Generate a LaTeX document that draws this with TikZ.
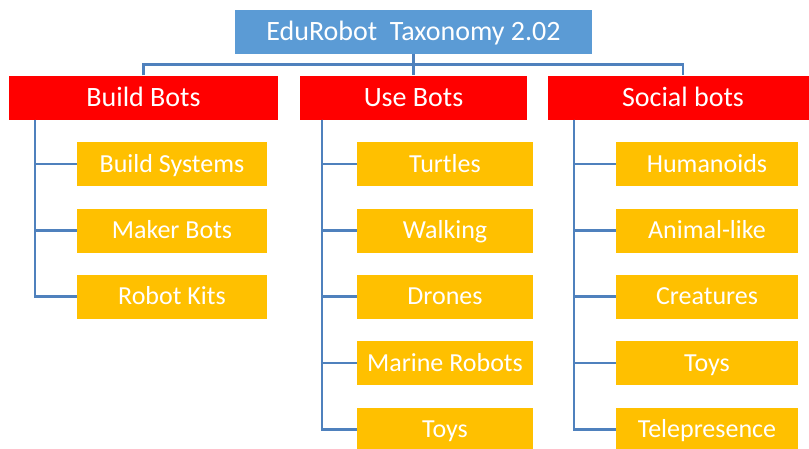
\documentclass[tikz,border=0pt]{standalone}
\usepackage{fontspec}
\setmainfont{Carlito}
\usepackage{tikz}
\usetikzlibrary{calc}
\definecolor{titleblue}{RGB}{91,155,213}
\definecolor{linkblue}{RGB}{79,129,189}
\definecolor{catred}{RGB}{255,0,0}
\definecolor{leafyellow}{RGB}{255,192,0}

\begin{document}
\begin{tikzpicture}[x=1pt,y=-1pt,
  box/.style={text=white,inner sep=0pt,minimum height=44pt,text depth=0pt},
  top/.style={box,fill=titleblue,minimum width=357pt,text height=18pt,font=\fontsize{28}{32}\selectfont},
  cat/.style={box,fill=catred,text height=18pt,font=\fontsize{28}{32}\selectfont},
  leaf/.style={box,fill=leafyellow,text height=16.7pt,font=\fontsize{26}{30}\selectfont},
  link/.style={linkblue,line width=2.4pt}]
\clip (0,0) rectangle (809,448);
\useasboundingbox (0,0) rectangle (809,448);

\node[top] (title) at (413.5,31.5) {EduRobot~ Taxonomy 2.02};

\node[cat,minimum width=269pt] (build) at (143.5,97.5) {Build Bots};
\node[cat,minimum width=227pt] (use) at (413.5,97.5) {Use Bots};
\node[cat,minimum width=270pt] (social) at (683,97.5) {Social bots};

\coordinate (bus) at (413.5,64.5);
\draw[link] (title.south) -- (bus);
\draw[link] (build.north) |- (bus) -| (social.north);
\draw[link] (bus) -- (use.north);

% build bots
\node[leaf,minimum width=190pt] (b1) at (172,164) {Build Systems};
\node[leaf,minimum width=190pt] (b2) at (172,230.5) {Maker Bots};
\node[leaf,minimum width=190pt] (b3) at (172,296.5) {Robot Kits};
\draw[link] ([xshift=26pt]build.south west) |- (b3.west);
\draw[link] ([xshift=26pt]build.south west) |- (b1.west);
\draw[link] ([xshift=26pt]build.south west) |- (b2.west);

% use bots
\node[leaf,minimum width=176pt] (u1) at (445,164) {Turtles};
\node[leaf,minimum width=176pt] (u2) at (445,230.5) {Walking};
\node[leaf,minimum width=176pt] (u3) at (445,296.5) {Drones};
\node[leaf,minimum width=176pt] (u4) at (445,363) {Marine Robots};
\node[leaf,minimum width=176pt] (u5) at (445,429.5) {Toys};
\draw[link] ([xshift=22pt]use.south west) |- (u5.west);
\draw[link] ([xshift=22pt]use.south west) |- (u1.west);
\draw[link] ([xshift=22pt]use.south west) |- (u2.west);
\draw[link] ([xshift=22pt]use.south west) |- (u3.west);
\draw[link] ([xshift=22pt]use.south west) |- (u4.west);

% social bots
\node[leaf,minimum width=182pt] (s1) at (707,164) {Humanoids};
\node[leaf,minimum width=182pt] (s2) at (707,230.5) {Animal-like};
\node[leaf,minimum width=182pt] (s3) at (707,296.5) {Creatures};
\node[leaf,minimum width=182pt] (s4) at (707,363) {Toys};
\node[leaf,minimum width=182pt] (s5) at (707,429.5) {Telepresence};
\draw[link] ([xshift=26pt]social.south west) |- (s5.west);
\draw[link] ([xshift=26pt]social.south west) |- (s1.west);
\draw[link] ([xshift=26pt]social.south west) |- (s2.west);
\draw[link] ([xshift=26pt]social.south west) |- (s3.west);
\draw[link] ([xshift=26pt]social.south west) |- (s4.west);
\end{tikzpicture}
\end{document}
